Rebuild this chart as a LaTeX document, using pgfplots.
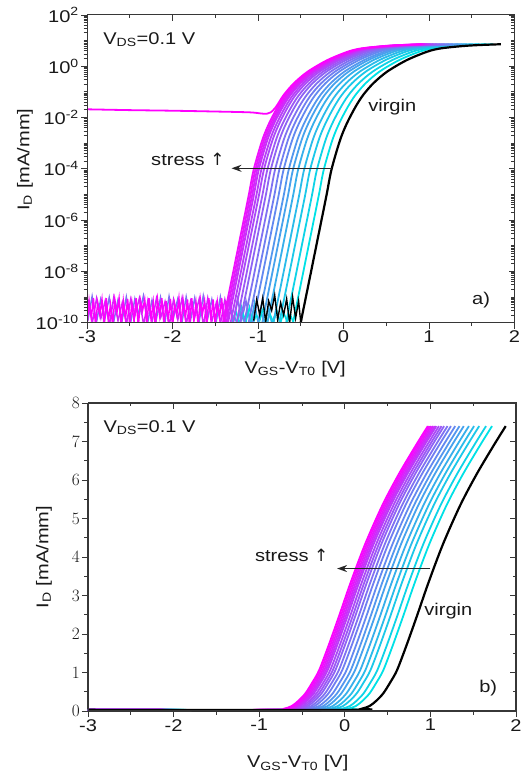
\documentclass[border=0pt]{standalone}
\usepackage{fontspec}
\setmainfont{Liberation Sans}[FakeStretch=1.18]
\newfontfamily\dejavu{DejaVu Sans}
\usepackage{pgfplots}
\pgfplotsset{compat=1.18}
\usepackage{pgfplotstable}
\usetikzlibrary{arrows.meta}
\definecolor{cy}{RGB}{0,225,230}
\definecolor{mg}{RGB}{255,0,255}
\definecolor{axc}{RGB}{55,55,55}
\colorlet{k1}{mg!0!cy}\colorlet{k2}{mg!6!cy}\colorlet{k3}{mg!11!cy}\colorlet{k4}{mg!17!cy}
\colorlet{k5}{mg!22!cy}\colorlet{k6}{mg!28!cy}\colorlet{k7}{mg!33!cy}\colorlet{k8}{mg!39!cy}
\colorlet{k9}{mg!44!cy}\colorlet{k10}{mg!50!cy}\colorlet{k11}{mg!56!cy}\colorlet{k12}{mg!61!cy}
\colorlet{k13}{mg!67!cy}\colorlet{k14}{mg!72!cy}\colorlet{k15}{mg!78!cy}\colorlet{k16}{mg!83!cy}
\colorlet{k17}{mg!89!cy}\colorlet{k18}{mg!94!cy}\colorlet{k19}{mg!100!cy}

\pgfplotstableread{
ID v0 c1 c2 c3 c4 c5 c6 c7 c8 c9 c10 c11 c12 c13 c14 c15 c16 c17 c18 c19
0.03 -3 -3 -3 -3 -3 -3 -3 -3 -3 -3 -3 -3 -3 -3 -3 -3 -3 -3 -3 -3
0.03 0.10 -0.06 -0.13 -0.21 -0.27 -0.33 -0.39 -0.44 -0.49 -0.54 -0.58 -0.62 -0.65 -0.68 -0.71 -0.73 -0.75 -0.77 -0.79 -0.81
0.06 0.20 0.04 -0.03 -0.11 -0.17 -0.23 -0.29 -0.34 -0.39 -0.44 -0.48 -0.52 -0.55 -0.58 -0.61 -0.63 -0.65 -0.67 -0.69 -0.71
0.13 0.29 0.13 0.06 -0.02 -0.08 -0.14 -0.20 -0.25 -0.30 -0.35 -0.39 -0.43 -0.46 -0.49 -0.52 -0.54 -0.56 -0.58 -0.60 -0.62
0.27 0.37 0.21 0.14 0.06 0.00 -0.06 -0.12 -0.17 -0.22 -0.27 -0.31 -0.35 -0.38 -0.41 -0.44 -0.46 -0.48 -0.50 -0.52 -0.54
0.46 0.45 0.29 0.22 0.14 0.08 0.02 -0.04 -0.09 -0.14 -0.19 -0.23 -0.27 -0.30 -0.33 -0.36 -0.38 -0.40 -0.42 -0.44 -0.46
0.74 0.53 0.37 0.30 0.22 0.16 0.10 0.04 -0.01 -0.06 -0.11 -0.15 -0.19 -0.22 -0.25 -0.28 -0.30 -0.32 -0.34 -0.36 -0.38
1.06 0.61 0.45 0.38 0.30 0.24 0.18 0.12 0.07 0.02 -0.03 -0.07 -0.11 -0.14 -0.17 -0.20 -0.22 -0.24 -0.26 -0.28 -0.30
1.70 0.72 0.56 0.49 0.41 0.35 0.29 0.23 0.18 0.13 0.08 0.04 0.00 -0.03 -0.06 -0.09 -0.11 -0.13 -0.15 -0.17 -0.19
2.45 0.84 0.68 0.61 0.53 0.47 0.41 0.35 0.30 0.25 0.20 0.16 0.12 0.09 0.06 0.03 0.01 -0.01 -0.03 -0.05 -0.07
3.35 0.98 0.82 0.75 0.67 0.61 0.55 0.49 0.44 0.39 0.34 0.30 0.26 0.23 0.20 0.17 0.15 0.13 0.11 0.09 0.07
4.35 1.15 0.99 0.92 0.84 0.78 0.72 0.66 0.61 0.56 0.51 0.47 0.43 0.40 0.37 0.34 0.32 0.30 0.28 0.26 0.24
5.35 1.35 1.19 1.12 1.04 0.98 0.92 0.86 0.81 0.76 0.71 0.67 0.63 0.60 0.57 0.54 0.52 0.50 0.48 0.46 0.44
6.15 1.54 1.38 1.31 1.23 1.17 1.11 1.05 1.00 0.95 0.90 0.86 0.82 0.79 0.76 0.73 0.71 0.69 0.67 0.65 0.63
6.90 1.74 1.58 1.51 1.43 1.37 1.31 1.25 1.20 1.15 1.10 1.06 1.02 0.99 0.96 0.93 0.91 0.89 0.87 0.85 0.83
7.40 1.88 1.72 1.65 1.57 1.51 1.45 1.39 1.34 1.29 1.24 1.20 1.16 1.13 1.10 1.07 1.05 1.03 1.01 0.99 0.97
}\tabB

\pgfplotstableread{
Y v0 c1 c2 c3 c4 c5 c6 c7 c8 c9 c10 c11 c12 c13 c14 c15 c16 c17 c18 c19
1e-10 -0.50 -0.59 -0.67 -0.75 -0.82 -0.89 -0.95 -1.00 -1.06 -1.11 -1.16 -1.21 -1.25 -1.29 -1.32 -1.35 -1.37 -1.39 -1.41 -1.43
3.2e-10 -0.47 -0.56 -0.64 -0.72 -0.79 -0.86 -0.92 -0.97 -1.03 -1.08 -1.13 -1.18 -1.22 -1.26 -1.29 -1.32 -1.34 -1.36 -1.38 -1.40
4.5e-9 -0.40 -0.49 -0.57 -0.65 -0.72 -0.79 -0.85 -0.90 -0.96 -1.01 -1.06 -1.11 -1.15 -1.19 -1.22 -1.25 -1.27 -1.29 -1.31 -1.33
2.0e-7 -0.30 -0.39 -0.47 -0.55 -0.62 -0.69 -0.75 -0.80 -0.86 -0.91 -0.96 -1.01 -1.05 -1.09 -1.12 -1.15 -1.17 -1.19 -1.21 -1.23
8.9e-6 -0.20 -0.29 -0.37 -0.45 -0.52 -0.59 -0.65 -0.70 -0.76 -0.81 -0.86 -0.91 -0.95 -0.99 -1.02 -1.05 -1.07 -1.09 -1.11 -1.13
9.5e-5 -0.14 -0.23 -0.31 -0.39 -0.46 -0.53 -0.59 -0.64 -0.70 -0.75 -0.80 -0.85 -0.89 -0.93 -0.96 -0.99 -1.01 -1.03 -1.05 -1.07
1.33e-3 -0.04 -0.13 -0.21 -0.29 -0.36 -0.43 -0.49 -0.54 -0.60 -0.65 -0.70 -0.75 -0.79 -0.83 -0.86 -0.89 -0.91 -0.93 -0.95 -0.97
6.0e-3 0.04 -0.05 -0.13 -0.21 -0.28 -0.35 -0.41 -0.46 -0.52 -0.57 -0.62 -0.67 -0.71 -0.75 -0.78 -0.81 -0.83 -0.85 -0.87 -0.89
2.6e-2 0.14 0.05 -0.03 -0.11 -0.18 -0.25 -0.31 -0.36 -0.42 -0.47 -0.52 -0.57 -0.61 -0.65 -0.68 -0.71 -0.73 -0.75 -0.77 -0.79
7.6e-2 0.23 0.14 0.06 -0.02 -0.09 -0.16 -0.22 -0.27 -0.33 -0.38 -0.43 -0.48 -0.52 -0.56 -0.59 -0.62 -0.64 -0.66 -0.68 -0.70
0.219 0.35 0.26 0.18 0.10 0.03 -0.04 -0.10 -0.15 -0.21 -0.26 -0.31 -0.36 -0.40 -0.44 -0.47 -0.50 -0.52 -0.54 -0.56 -0.58
0.617 0.51 0.42 0.34 0.26 0.19 0.12 0.06 0.01 -0.05 -0.10 -0.15 -0.20 -0.24 -0.28 -0.31 -0.34 -0.36 -0.38 -0.40 -0.42
1.74 0.74 0.65 0.57 0.49 0.42 0.35 0.29 0.24 0.18 0.13 0.08 0.03 -0.01 -0.05 -0.08 -0.11 -0.13 -0.15 -0.17 -0.19
3.72 0.98 0.89 0.81 0.73 0.66 0.59 0.53 0.48 0.42 0.37 0.32 0.27 0.23 0.19 0.16 0.13 0.11 0.09 0.07 0.05
5.0 1.14 1.05 0.97 0.89 0.82 0.75 0.69 0.64 0.58 0.53 0.48 0.43 0.39 0.35 0.32 0.29 0.27 0.25 0.23 0.21
6.17 1.40 1.31 1.23 1.15 1.08 1.01 0.95 0.90 0.84 0.79 0.74 0.69 0.65 0.61 0.58 0.55 0.53 0.51 0.49 0.47
6.76 1.60 1.51 1.43 1.35 1.28 1.21 1.15 1.10 1.04 0.99 0.94 0.89 0.85 0.81 0.78 0.75 0.73 0.71 0.69 0.67
7.24 1.84 1.75 1.67 1.59 1.52 1.45 1.39 1.34 1.28 1.23 1.18 1.13 1.09 1.05 1.02 0.99 0.97 0.95 0.93 0.91
}\tabT

\def\fs{\fontsize{17}{20}\selectfont}
\def\logminor{2e-10,3e-10,4e-10,5e-10,6e-10,7e-10,8e-10,9e-10,1e-9,2e-9,3e-9,4e-9,5e-9,6e-9,7e-9,8e-9,9e-9,2e-8,3e-8,4e-8,5e-8,6e-8,7e-8,8e-8,9e-8,1e-7,2e-7,3e-7,4e-7,5e-7,6e-7,7e-7,8e-7,9e-7,2e-6,3e-6,4e-6,5e-6,6e-6,7e-6,8e-6,9e-6,1e-5,2e-5,3e-5,4e-5,5e-5,6e-5,7e-5,8e-5,9e-5,2e-4,3e-4,4e-4,5e-4,6e-4,7e-4,8e-4,9e-4,1e-3,2e-3,3e-3,4e-3,5e-3,6e-3,7e-3,8e-3,9e-3,2e-2,3e-2,4e-2,5e-2,6e-2,7e-2,8e-2,9e-2,0.1,0.2,0.3,0.4,0.5,0.6,0.7,0.8,0.9,2,3,4,5,6,7,8,9,10,20,30,40,50,60,70,80,90}
\def\up{{\dejavu ↑}}

\pgfplotsset{
  base/.style={
    scale only axis, width=427.5pt, height=307.7pt,
    xmin=-3, xmax=2, xtick={-3,-2,-1,0,1,2}, minor x tick num=1,
    major tick length=6pt, minor tick length=3.5pt,
    axis line style={axc, line width=1pt},
    every tick/.append style={axc, line width=0.9pt},
    font=\fs,
    tick label style={font=\fs, inner sep=2pt, black!90},
    label style={font=\fs, black!90},
  },
  cv/.style={smooth, line width=1.8pt},
  nz/.style={line width=1.5pt},
}

\begin{document}
\begin{tikzpicture}[font=\fs]
\path[use as bounding box] (0,0) rectangle (523pt,776pt);

% ---------------- top panel (log) ----------------
\begin{axis}[base, at={(87pt,453.3pt)}, anchor=south west,
  ymode=log, ymin=1e-10, ymax=1e2,
  ytick={1e-10,1e-8,1e-6,1e-4,1e-2,1,100},
  yticklabels={10\textsuperscript{-10},10\textsuperscript{-8},10\textsuperscript{-6},10\textsuperscript{-4},10\textsuperscript{-2},10\textsuperscript{0},10\textsuperscript{2}},
  minor ytick/.expand once={\logminor},
  xticklabels={-3,-2,-1,0,1,2},
  tick align=outside, xtick pos=left, ytick pos=left,
  xlabel={V\textsubscript{GS}-V\textsubscript{T0} [V]},
  ylabel={I\textsubscript{D} [mA/mm]},
  xlabel style={at={(axis description cs:0.487,-0.15)}, anchor=center},
  ylabel style={at={(axis description cs:-0.145,0.53)}, anchor=center},
]
% noise floor traces
\addplot[nz, color=k10] coordinates {
(-2.99,1.2e-10) (-2.94,1.05e-9) (-2.89,1e-10) (-2.84,8e-10) (-2.79,1.5e-10) (-2.74,9.5e-10) (-2.69,1e-10) (-2.64,7e-10)
(-2.59,1.2e-10) (-2.54,1e-9) (-2.49,1e-10) (-2.44,8.5e-10) (-2.39,2e-10) (-2.34,1.1e-9) (-2.29,1e-10) (-2.24,7.5e-10)
(-2.19,1.3e-10) (-2.14,9.5e-10) (-2.09,1e-10) (-2.04,1.05e-9) (-1.99,1.5e-10) (-1.94,8e-10) (-1.89,1e-10) (-1.84,1e-9)
(-1.79,1.2e-10) (-1.74,9e-10) (-1.69,1e-10) (-1.64,1.1e-9) (-1.59,1.4e-10) (-1.54,8e-10) (-1.49,1e-10) (-1.44,1e-9)
(-1.39,1.2e-10) (-1.34,9e-10) (-1.29,1e-10) (-1.24,8.5e-10) (-1.19,1.3e-10) (-1.14,7e-10) (-1.09,1e-10) (-1.04,5e-10)};
\addplot[nz, color=k5] coordinates {
(-1.28,2e-10) (-1.24,8e-11) (-1.20,5e-10) (-1.16,1e-10) (-1.12,3e-10) (-1.08,9e-11) (-1.04,6e-10) (-1.00,1e-10)
(-0.96,2.5e-10) (-0.92,9e-11) (-0.88,4e-10) (-0.84,1e-10) (-0.80,2e-10)};
\addplot[nz, color=k1] coordinates {
(-1.30,1e-10) (-1.26,3e-10) (-1.22,9e-11) (-1.18,2.5e-10) (-1.14,1.1e-10) (-1.10,4e-10) (-1.06,9e-11) (-1.02,2e-10)
(-0.98,1.2e-10) (-0.94,3.5e-10) (-0.90,9e-11) (-0.86,2.2e-10) (-0.82,1e-10) (-0.78,3e-10) (-0.74,9e-11) (-0.70,2.5e-10)
(-0.66,1.1e-10) (-0.62,2e-10) (-0.58,9e-11)};
\addplot[nz, color=k16] coordinates {
(-2.9875,8e-10) (-2.9375,1e-10) (-2.8875,9e-10) (-2.8375,1.5e-10) (-2.7875,7e-10) (-2.7375,8e-11) (-2.6875,9.5e-10) (-2.6375,1.2e-10)
(-2.5875,6e-10) (-2.5375,9e-11) (-2.4875,8.5e-10) (-2.4375,2e-10) (-2.3875,9e-10) (-2.3375,8e-11) (-2.2875,7.5e-10) (-2.2375,1.1e-10)
(-2.1875,9e-10) (-2.1375,1.6e-10) (-2.0875,6.5e-10) (-2.0375,8e-11) (-1.9875,8e-10) (-1.9375,1.3e-10) (-1.8875,9.5e-10) (-1.8375,9e-11)
(-1.7875,7e-10) (-1.7375,1.8e-10) (-1.6875,8.5e-10) (-1.6375,8e-11) (-1.5875,9e-10) (-1.5375,1.2e-10) (-1.4875,6e-10) (-1.4375,1e-10)
(-1.3875,8e-10) (-1.3375,1.4e-10)};
\addplot[nz, color=mg] coordinates {
(-3.000,7e-11) (-2.975,7e-10) (-2.950,1.5e-10) (-2.925,9e-10) (-2.900,8e-11) (-2.875,6e-10) (-2.850,2e-10) (-2.825,8e-10)
(-2.800,7e-11) (-2.775,9e-10) (-2.750,1.2e-10) (-2.725,5e-10) (-2.700,8e-11) (-2.675,8e-10) (-2.650,2.5e-10) (-2.625,9e-10)
(-2.600,7e-11) (-2.575,7e-10) (-2.550,1.4e-10) (-2.525,8.5e-10) (-2.500,8e-11) (-2.475,6e-10) (-2.450,1.1e-10) (-2.425,9e-10)
(-2.400,7e-11) (-2.375,7.5e-10) (-2.350,3e-10) (-2.325,8e-10) (-2.300,8e-11) (-2.275,9e-10) (-2.250,1.3e-10) (-2.225,6.5e-10)
(-2.200,7e-11) (-2.175,8e-10) (-2.150,1.8e-10) (-2.125,9e-10) (-2.100,8e-11) (-2.075,7e-10) (-2.050,1.2e-10) (-2.025,8.5e-10)
(-2.000,7e-11) (-1.975,5.5e-10) (-1.950,2e-10) (-1.925,9e-10) (-1.900,8e-11) (-1.875,7e-10) (-1.850,1.5e-10) (-1.825,8e-10)
(-1.800,7e-11) (-1.775,9e-10) (-1.750,1.1e-10) (-1.725,6e-10) (-1.700,8e-11) (-1.675,8.5e-10) (-1.650,2.2e-10) (-1.625,7e-10)
(-1.600,7e-11) (-1.575,9e-10) (-1.550,1.3e-10) (-1.525,8e-10) (-1.500,8e-11) (-1.475,6.5e-10) (-1.450,1.6e-10) (-1.425,9e-10)
(-1.400,7e-11) (-1.375,7e-10) (-1.350,1e-10)};
% stressed curves
\pgfplotsinvokeforeach{1,...,18}{\addplot[cv, color=k#1] table[x=c#1, y=Y]{\tabT};}
% most stressed curve with leakage floor
\addplot[cv, color=k19] coordinates {
(-3,2.1e-2) (-2.5,1.95e-2) (-2,1.85e-2) (-1.5,1.72e-2) (-1.1,1.6e-2) (-0.97,1.45e-2) (-0.9,1.4e-2) (-0.85,1.6e-2)
(-0.79,2.6e-2) (-0.70,7.6e-2) (-0.58,0.219) (-0.42,0.617) (-0.19,1.74) (0.05,3.72) (0.21,5.0) (0.47,6.17) (0.67,6.76) (0.91,7.24)};
% virgin
\addplot[black, line width=1.4pt] coordinates {
(-1.050,1.2e-10) (-1.015,8e-10) (-0.980,2e-10) (-0.945,9e-10) (-0.910,1.1e-10) (-0.875,7e-10) (-0.840,3e-10) (-0.805,1.2e-9)
(-0.770,1.3e-10) (-0.735,6e-10) (-0.700,2e-10) (-0.665,8.5e-10) (-0.630,1e-10) (-0.595,1e-9) (-0.560,1.5e-10) (-0.525,7e-10) (-0.500,1e-10)};
\addplot[cv, black, line width=2.2pt] table[x=v0, y=Y]{\tabT};
\draw[-{Stealth[length=10pt,width=7pt]}, line width=1.4pt, black!85] (axis cs:-0.136,1.05e-4) -- (axis cs:-1.31,1.05e-4);
\node[black!90] at (axis cs:-1.82,2.4e-4) {stress \up};
\node[black!90] at (axis cs:0.57,2.6e-2) {virgin};
\node[anchor=west, black!90] at (axis description cs:0.030,0.920) {V\textsubscript{DS}=0.1 V};
\node[black!90] at (axis description cs:0.922,0.074) {a)};
\end{axis}
\begin{axis}[base, at={(87pt,453.3pt)}, anchor=south west,
  ymode=log, ymin=1e-10, ymax=1e2,
  ytick={1e-10,1e-8,1e-6,1e-4,1e-2,1,100},
  minor ytick/.expand once={\logminor},
  tick align=inside, xtick pos=right, ytick pos=right,
  xticklabels={}, yticklabels={},
]
\end{axis}

% ---------------- bottom panel (linear) ----------------
\begin{axis}[base, at={(88pt,65pt)}, anchor=south west, width=428pt, height=308pt,
  ymin=0, ymax=8, ytick={0,1,...,8}, minor y tick num=1,
  xticklabels={-3,-2,-1,0,1,2},
  tick align=outside, xtick pos=left, ytick pos=left,
  xlabel={V\textsubscript{GS}-V\textsubscript{T0} [V]},
  ylabel={I\textsubscript{D} [mA/mm]},
  xlabel style={at={(axis description cs:0.49,-0.169)}, anchor=center},
  ylabel style={at={(axis description cs:-0.103,0.5)}, anchor=center},
]
\pgfplotsinvokeforeach{1,...,19}{\addplot[cv, color=k#1] table[x=c#1, y=ID]{\tabB};}
\addplot[cv, black, line width=2.2pt] table[x=v0, y=ID]{\tabB};
\draw[-{Stealth[length=10pt,width=7pt]}, line width=1.4pt, black!85] (axis cs:1.0,3.7) -- (axis cs:-0.09,3.7);
\node[black!90] at (axis cs:-0.62,4.05) {stress \up};
\node[black!90] at (axis cs:1.21,2.6) {virgin};
\node[anchor=west, black!90] at (axis description cs:0.028,0.920) {V\textsubscript{DS}=0.1 V};
\node[black!90] at (axis description cs:0.935,0.075) {b)};
\end{axis}
\begin{axis}[base, at={(88pt,65pt)}, anchor=south west, width=428pt, height=308pt,
  ymin=0, ymax=8, ytick={0,1,...,8}, minor y tick num=1,
  tick align=inside, xtick pos=right, ytick pos=right,
  xticklabels={}, yticklabels={},
]
\end{axis}
\end{tikzpicture}
\end{document}
